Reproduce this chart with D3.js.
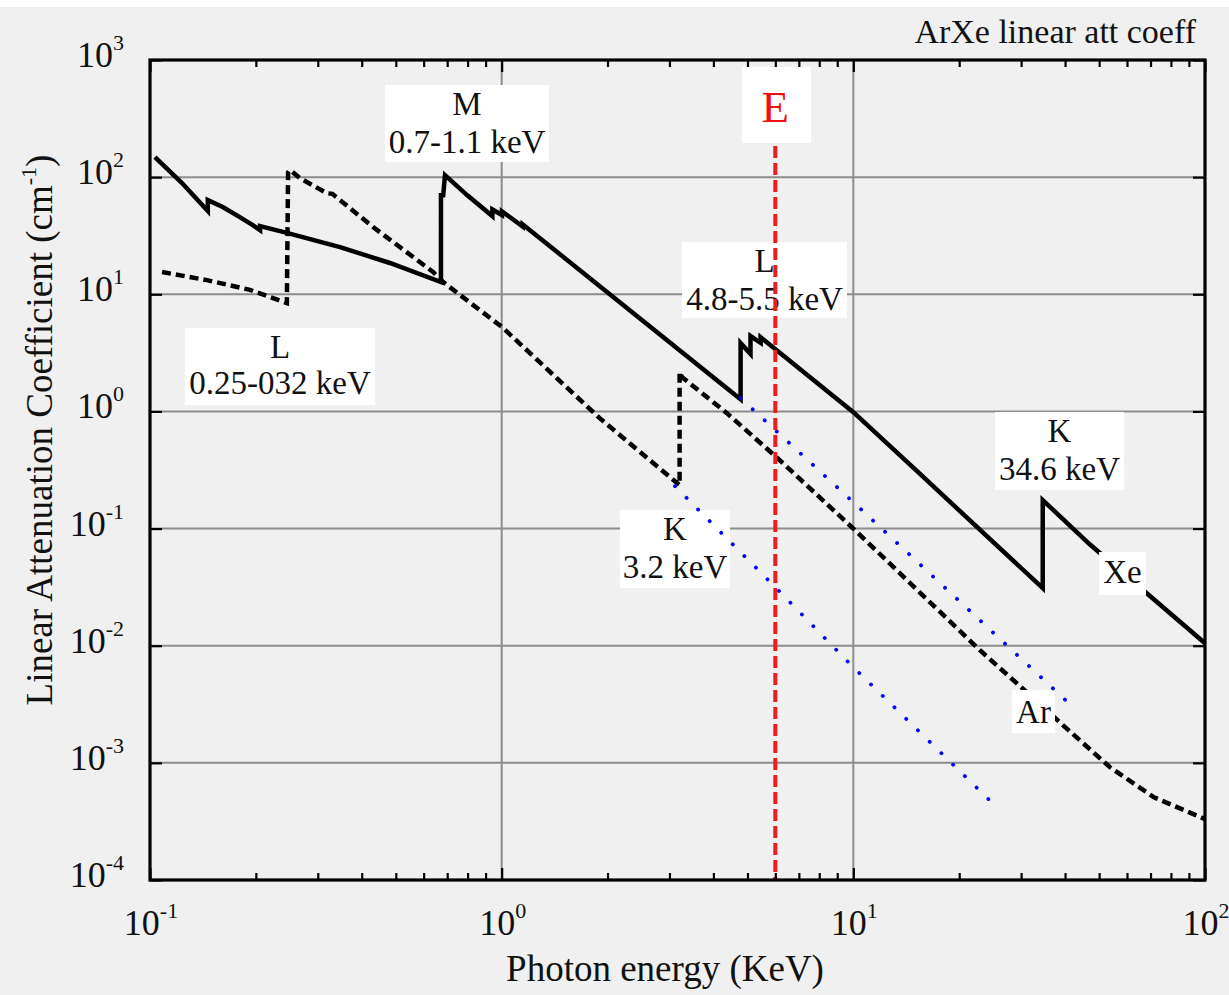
<!DOCTYPE html>
<html><head><meta charset="utf-8">
<script src="https://cdn.jsdelivr.net/npm/d3@7"></script>
<style>
body{margin:0;background:#eff0ef;}
svg{display:block;}
text{font-family:"Liberation Serif","Times New Roman",serif;fill:#111;}
</style>
</head><body>
<svg id="chart" width="1229" height="995"></svg>
<script>
// ---------- data ----------
const xeEnergy = [0.1033, 0.1233, 0.146, 0.146, 0.161, 0.180, 0.196, 0.2056, 0.2056, 0.245, 0.347, 0.481, 0.672, 0.672, 0.682, 0.690, 0.797, 0.941, 0.941, 1.002, 1.002, 1.148, 1.148, 4.78, 4.78, 5.10, 5.10, 5.45, 5.45, 10, 15.07, 34.56, 34.56, 47.1, 100];
const xeMu     = [148, 89, 51.3, 63.7, 55.6, 45.6, 39, 35.3, 38.2, 33.4, 25.3, 18.5, 12.7, 70, 70, 104, 70.3, 46.5, 53, 47.5, 51, 37.8, 39.5, 1.27, 3.83, 3.1, 4.4, 3.85, 4.3, 0.986, 0.315, 0.031, 0.175, 0.073, 0.0105];

const arEnergy = [0.1082, 0.1453, 0.1924, 0.245, 0.247, 0.25, 0.267, 0.318, 0.33, 0.431, 0.638, 0.682, 1.002, 1.90, 3.206, 3.206, 3.26, 4.37, 6.08, 10, 22.9, 30, 38.9, 53.7, 71.6, 97.3, 100];
const arMu     = [15.5, 13.2, 10.9, 8.4, 110, 115, 98, 73, 72, 37.5, 15.5, 12.7, 5.25, 0.877, 0.235, 2.17, 1.96, 0.967, 0.40, 0.10, 0.00916, 0.00443, 0.00218, 0.000917, 0.000508, 0.000343, 0.00033];

const arExtrapEnergy = [3.11, 6.0, 10, 24.9];
const arExtrapMu     = [0.23, 0.0316, 0.00655, 0.000452];
const xeExtrapEnergy = [4.78, 10, 41];
const xeExtrapMu     = [1.3, 0.168, 0.00323];

const markerEnergy = 6.0;

const xTickValues = [0.1, 1, 10, 100];
const xTickExp    = ["-1", "0", "1", "2"];
const xMinorTicks = [0.2,0.3,0.4,0.5,0.6,0.7,0.8,0.9,2,3,4,5,6,7,8,9,20,30,40,50,60,70,80,90];
const yTickValues = [1e3, 1e2, 1e1, 1e0, 1e-1, 1e-2, 1e-3, 1e-4];
const yTickExp    = ["3", "2", "1", "0", "-1", "-2", "-3", "-4"];

const annotations = [
  {lines:["M","0.7-1.1 keV"], box:[385,85,549,162], base:[115,153]},
  {lines:["L","4.8-5.5 keV"], box:[682,242,847,318], base:[272,310]},
  {lines:["L","0.25-032 keV"], box:[185,328,375,405], base:[358,394]},
  {lines:["K","3.2 keV"], box:[620,510,730,588], base:[540,578]},
  {lines:["K","34.6 keV"], box:[995,412,1124,490], base:[442,480]},
  {lines:["Xe"], box:[1099,552,1146,595], base:[583]},
  {lines:["Ar"], box:[1012,690,1055,733], base:[723]}
];

// ---------- layout ----------
const L = 150, R = 1205, T = 60, B = 880;
const svg = d3.select("#chart");
svg.append("rect").attr("x",0).attr("y",0).attr("width",1229).attr("height",995).attr("fill","#eff0ef");
svg.append("rect").attr("x",0).attr("y",0).attr("width",1229).attr("height",7).attr("fill","#ffffff");

const x = d3.scaleLog().domain([0.1, 100]).range([L, R]);
const y = d3.scaleLog().domain([1e-4, 1e3]).range([B, T]);

// gridlines
const g = svg.append("g");
g.selectAll("line.gx").data(xTickValues.slice(1, -1)).join("line")
  .attr("x1", d => x(d)).attr("x2", d => x(d)).attr("y1", T).attr("y2", B)
  .attr("stroke", "#8c8c8c").attr("stroke-width", 2);
g.selectAll("line.gy").data(yTickValues.slice(1, -1)).join("line")
  .attr("y1", d => y(d)).attr("y2", d => y(d)).attr("x1", L).attr("x2", R)
  .attr("stroke", "#8c8c8c").attr("stroke-width", 2);

// curves
const line = d3.line().x(d => x(d[0])).y(d => y(d[1]));
const xePts = xeEnergy.map((e, i) => [e, xeMu[i]]);
const arPts = arEnergy.map((e, i) => [e, arMu[i]]);
svg.append("path").attr("d", line(arPts)).attr("fill", "none")
  .attr("stroke", "#000").attr("stroke-width", 4.5).attr("stroke-dasharray", "9,5");
svg.append("path").attr("d", line(xePts)).attr("fill", "none")
  .attr("stroke", "#000").attr("stroke-width", 4.5).attr("stroke-linejoin", "miter");

// annotation boxes
annotations.forEach(a => {
  const [x0, y0, x1, y1] = a.box;
  svg.append("rect").attr("x", x0).attr("y", y0).attr("width", x1 - x0).attr("height", y1 - y0).attr("fill", "#fff");
  a.lines.forEach((t, i) => {
    svg.append("text").attr("x", (x0 + x1) / 2).attr("y", a.base[i])
      .attr("text-anchor", "middle").attr("font-size", 33).text(t);
  });
});

// blue extrapolations
[[arExtrapEnergy, arExtrapMu], [xeExtrapEnergy, xeExtrapMu]].forEach(([es, ms]) => {
  svg.append("path").attr("d", line(es.map((e, i) => [e, ms[i]]))).attr("fill", "none")
    .attr("stroke", "#0000ff").attr("stroke-width", 3.8).attr("stroke-linecap", "round")
    .attr("stroke-dasharray", "0.1,16.3");
});

// red marker line
svg.append("line").attr("x1", x(markerEnergy)).attr("x2", x(markerEnergy)).attr("y1", 146).attr("y2", B)
  .attr("stroke", "#ee1c1c").attr("stroke-width", 4).attr("stroke-dasharray", "12,5");
svg.append("rect").attr("x", 742).attr("y", 67).attr("width", 69).attr("height", 76).attr("fill", "#fff");
svg.append("text").attr("x", x(markerEnergy)).attr("y", 122).attr("text-anchor", "middle")
  .attr("font-size", 45).style("fill", "#ee1111").text("E");

// axes (ticks inward)
function styleAxis(sel) {
  sel.select(".domain").remove();
  sel.selectAll(".tick line").attr("stroke", "#000").attr("stroke-width", 2.2);
  sel.selectAll(".tick text").remove();
}
svg.append("g").attr("transform", `translate(0,${B})`)
  .call(d3.axisBottom(x).tickValues(xMinorTicks).tickSize(-7).tickFormat("")).call(styleAxis);
svg.append("g").attr("transform", `translate(0,${B})`)
  .call(d3.axisBottom(x).tickValues(xTickValues).tickSize(-12).tickFormat("")).call(styleAxis);
svg.append("g").attr("transform", `translate(0,${T})`)
  .call(d3.axisTop(x).tickValues(xMinorTicks).tickSize(-7).tickFormat("")).call(styleAxis);
svg.append("g").attr("transform", `translate(0,${T})`)
  .call(d3.axisTop(x).tickValues(xTickValues).tickSize(-12).tickFormat("")).call(styleAxis);
svg.append("g").attr("transform", `translate(${L},0)`)
  .call(d3.axisLeft(y).tickValues(yTickValues).tickSize(-12).tickFormat("")).call(styleAxis);
svg.append("g").attr("transform", `translate(${R},0)`)
  .call(d3.axisRight(y).tickValues(yTickValues).tickSize(-12).tickFormat("")).call(styleAxis);

// frame
svg.append("rect").attr("x", L).attr("y", T).attr("width", R - L).attr("height", B - T)
  .attr("fill", "none").attr("stroke", "#000").attr("stroke-width", 3.2);

// tick labels
xTickValues.forEach((v, i) => {
  const t = svg.append("text").attr("x", x(v) + 1).attr("y", 935).attr("text-anchor", "middle").attr("font-size", 36);
  t.append("tspan").text("10");
  t.append("tspan").attr("font-size", 22).attr("dy", -17).text(xTickExp[i]);
});
yTickValues.forEach((v, i) => {
  const t = svg.append("text").attr("x", 124).attr("y", y(v) + 7).attr("text-anchor", "end").attr("font-size", 36);
  t.append("tspan").text("10");
  t.append("tspan").attr("font-size", 22).attr("dy", -17).text(yTickExp[i]);
});

// axis titles
svg.append("text").attr("x", 665).attr("y", 981).attr("text-anchor", "middle").attr("font-size", 37)
  .text("Photon energy (KeV)");
const yl = svg.append("text").attr("transform", "translate(52,430) rotate(-90)")
  .attr("text-anchor", "middle").attr("font-size", 37);
yl.append("tspan").text("Linear Attenuation Coefficient (cm");
yl.append("tspan").attr("font-size", 22).attr("dy", -16).text("-1");
yl.append("tspan").attr("dy", 16).text(")");

// title
svg.append("text").attr("x", 1196).attr("y", 43).attr("text-anchor", "end").attr("font-size", 34)
  .text("ArXe linear att coeff");
</script>
</body></html>
